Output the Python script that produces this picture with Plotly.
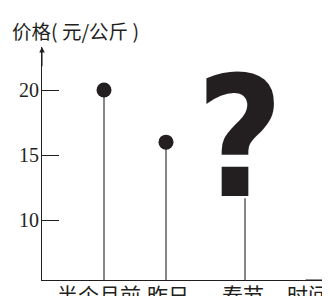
import plotly.graph_objects as go

categories = ["半个月前", "昨日", "春节"]
prices = [20, 16, None]
unknown_level = 11.7
y_ticks = [10, 15, 20]
y_title = "价格( 元/公斤 )"
x_title = "时间"

# layout-only horizontal positions of the categories on the time axis
x_pos = [62, 124, 203]
label_shift = [-5, 2, -2]

INK = "#231f20"
CJK = "Noto Sans CJK SC"
Y0, Y1 = 5.42, 23.3
PW, PH = 283, 233

fig = go.Figure()

for xp, v in zip(x_pos, prices):
    top = v if v is not None else unknown_level
    fig.add_trace(go.Scatter(x=[xp, xp], y=[Y0, top], mode="lines",
                             line=dict(color=INK, width=1.1),
                             hoverinfo="skip", showlegend=False))

fig.add_trace(go.Scatter(x=[p for p, v in zip(x_pos, prices) if v is not None],
                         y=[v for v in prices if v is not None],
                         mode="markers", marker=dict(color=INK, size=15),
                         showlegend=False))

ann = [
    dict(x=x_pos[2], y=unknown_level, xref="x", yref="y", text="?",
         showarrow=False, yanchor="bottom", xanchor="center", xshift=-5,
         font=dict(family="Liberation Sans Narrow, DejaVu Sans Condensed, DejaVu Sans",
                   size=168, color=INK, weight=700), yshift=-40),
    dict(x=0, y=Y1, ax=0, ay=Y1 - 1.6, xref="x", yref="y", axref="x", ayref="y",
         showarrow=True, arrowhead=2, arrowsize=1, arrowwidth=1.1,
         arrowcolor=INK, text=""),
    dict(x=288, y=Y0, ax=262, ay=Y0, xref="x", yref="y", axref="x", ayref="y",
         showarrow=True, arrowhead=2, arrowsize=1, arrowwidth=1.1,
         arrowcolor=INK, text=""),
    dict(x=(10 - 42) / PW, y=(280 - 30) / PH, xref="paper", yref="paper",
         text=y_title, showarrow=False, xanchor="left", yanchor="middle",
         font=dict(family=CJK, size=19.5, color=INK)),
    dict(x=265, y=Y0, xref="x", yref="y", text=x_title, showarrow=False,
         xanchor="center", yanchor="top", yshift=3, xshift=1,
         font=dict(family=CJK, size=21, color=INK)),
]
for xp, cat, sh in zip(x_pos, categories, label_shift):
    ann.append(dict(x=xp, y=Y0, xref="x", yref="y", text=cat, showarrow=False,
                    xanchor="center", yanchor="top", yshift=3, xshift=sh,
                    font=dict(family=CJK, size=21, color=INK)))

fig.update_layout(
    width=322, height=288,
    margin=dict(l=34, r=5, t=39, b=16, autoexpand=False),
    paper_bgcolor="white", plot_bgcolor="white",
    annotations=ann,
    xaxis=dict(range=[0, PW], showticklabels=False, automargin=False,
               showgrid=False, zeroline=False, showline=True, linecolor=INK,
               linewidth=1.1, ticks="", fixedrange=True),
    yaxis=dict(range=[Y0, Y1], tickvals=y_ticks, showgrid=False, zeroline=False,
               automargin=False, ticklabelstandoff=-2,
               showline=True, linecolor=INK, linewidth=1.1, ticks="inside",
               ticklen=17, tickcolor=INK, tickwidth=1.1,
               tickfont=dict(family="Liberation Serif", size=20, color=INK),
               fixedrange=True),
)

fig.write_html("out.html")
